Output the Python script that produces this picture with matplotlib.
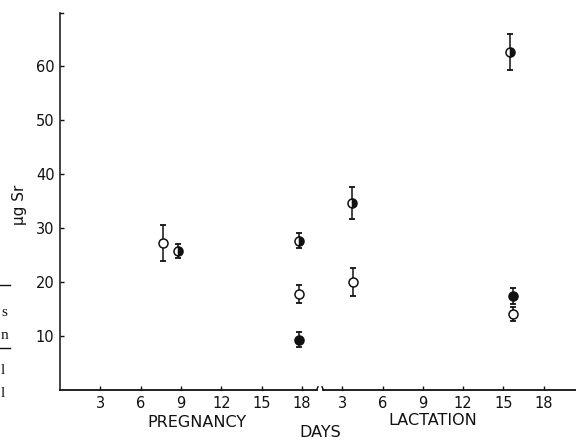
import matplotlib
matplotlib.use('Agg')
import matplotlib.pyplot as plt
import numpy as np

# Sr content (ug) with SE.
# phase: 'P' = pregnancy day, 'L' = lactation day
open_phase = ['P', 'P', 'L', 'L']
open_day = [7.7, 17.8, 3.8, 15.7]
open_val = [27.2, 17.8, 20.0, 14.1]
open_err = [3.4, 1.6, 2.6, 1.3]

filled_phase = ['P', 'L']
filled_day = [17.8, 15.7]
filled_val = [9.3, 17.4]
filled_err = [1.4, 1.4]

half_phase = ['P', 'P', 'L', 'L']
half_day = [8.8, 17.8, 3.7, 15.5]
half_val = [25.7, 27.6, 34.6, 62.6]
half_err = [1.3, 1.4, 3.0, 3.4]

tick_days = [3, 6, 9, 12, 15, 18]
y_ticks = [10, 20, 30, 40, 50, 60]

LACT_OFFSET = 18  # lactation day 0 sits at pregnancy day 18 on the axis


def to_x(phase, day):
    return np.array([d if p == 'P' else d + LACT_OFFSET for p, d in zip(phase, day)])


ink = '#111111'
fig = plt.figure(figsize=(5.76, 4.4), dpi=100)
ax = fig.add_axes([60 / 576, 50 / 440, 516 / 576, 377 / 440])

err_kw = dict(fmt='none', ecolor=ink, elinewidth=1.1, capsize=2, capthick=1.3)
mk_kw = dict(linestyle='none', marker='o', markersize=6.5, markeredgecolor=ink,
             markeredgewidth=1.1)

for phase, day, val, err in [(open_phase, open_day, open_val, open_err),
                             (filled_phase, filled_day, filled_val, filled_err),
                             (half_phase, half_day, half_val, half_err)]:
    ax.errorbar(to_x(phase, day), val, yerr=err, **err_kw)

ax.plot(to_x(open_phase, open_day), open_val, markerfacecolor='white', **mk_kw)
ax.plot(to_x(filled_phase, filled_day), filled_val, markerfacecolor=ink, **mk_kw)
ax.plot(to_x(half_phase, half_day), half_val, markerfacecolor=ink, fillstyle='right',
        markerfacecoloralt='white', **mk_kw)

ax.set_xlim(0, 38.4)
ax.set_ylim(0, 69.8)

xt = tick_days + [d + LACT_OFFSET for d in tick_days]
ax.set_xticks(xt)
ax.set_xticklabels([str(d) for d in tick_days] * 2)
ax.set_yticks(y_ticks)
ax.tick_params(direction='in', length=3, width=1, color=ink, labelcolor=ink,
               labelsize=10.5, pad=4)

for s in ['top', 'right', 'bottom']:
    ax.spines[s].set_visible(False)
ax.spines['left'].set_color(ink)
ax.spines['left'].set_linewidth(1.1)

# broken x axis between pregnancy and lactation
ax.plot([0, 19.1], [0, 0], color=ink, lw=1.3, clip_on=False)
ax.plot([19.1, 19.2], [0, 0.6], color=ink, lw=1.0, clip_on=False)
ax.plot([19.5, 19.6], [0.6, 0], color=ink, lw=1.0, clip_on=False)
ax.plot([19.6, 38.4], [0, 0], color=ink, lw=1.3, clip_on=False)
# small hook at top of y axis
ax.plot([0, 0.25], [69.8, 69.8], color=ink, lw=1.0, clip_on=False)

ax.set_ylabel('µg Sr', fontsize=11, color=ink)
ax.yaxis.set_label_coords(-0.064, 0.49)

fig.text(197 / 576, 1 - 422 / 440, 'PREGNANCY', ha='center', va='center',
         fontsize=11.5, color=ink)
fig.text(320 / 576, 1 - 432 / 440, 'DAYS', ha='center', va='center',
         fontsize=11.5, color=ink)
fig.text(433 / 576, 1 - 420 / 440, 'LACTATION', ha='center', va='center',
         fontsize=11.5, color=ink)

# fragments of the neighbouring text column at the left page edge
for ch, yp in [('s', 313), ('n', 335), ('l', 370), ('l', 393)]:
    fig.text(1 / 576, 1 - yp / 440, ch, ha='left', va='center', fontsize=11,
             family='Liberation Serif', color=ink)
for yp in [285, 348]:
    fig.add_artist(plt.Line2D([0, 10 / 576], [1 - yp / 440] * 2, color=ink,
                              lw=1.0, transform=fig.transFigure))

fig.savefig('out.png', dpi=100)
